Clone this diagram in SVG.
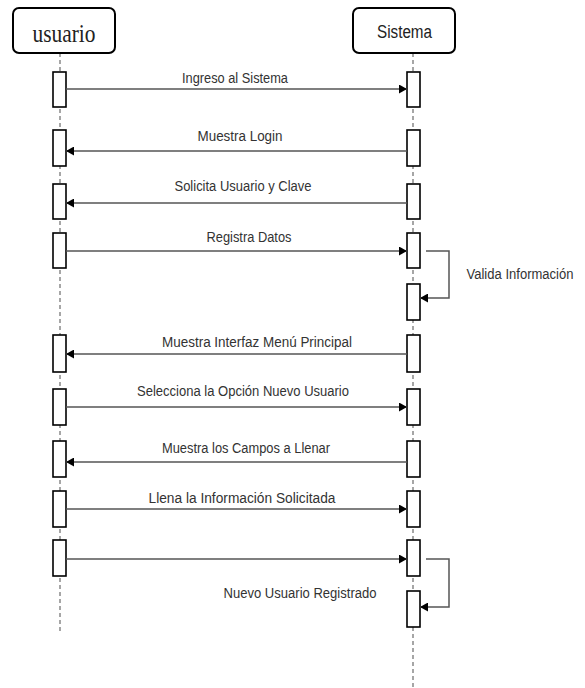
<svg xmlns="http://www.w3.org/2000/svg" width="585" height="688" viewBox="0 0 585 688">
  <defs>
    <marker id="head" markerWidth="9" markerHeight="9" refX="8" refY="4.5" orient="auto" markerUnits="userSpaceOnUse">
      <path d="M0,0 L8,4.5 L0,9 Z" fill="#000"/>
    </marker>
    <style>
      .actor { fill: #fff; stroke: #000; stroke-width: 2; }
      .life { stroke: #777; stroke-width: 1.3; stroke-dasharray: 4 3; fill: none; }
      .act { fill: #fff; stroke: #000; stroke-width: 1.6; }
      .msg { stroke: #555; stroke-width: 1.5; fill: none; marker-end: url(#head); }
      .lbl { font-family: "Liberation Sans", Arial, sans-serif; font-size: 14px; fill: #333; text-anchor: middle; }
    </style>
  </defs>
  <rect width="585" height="688" fill="#fff"/>

  <!-- lifelines -->
  <g id="lifelines">
    <line class="life" x1="60" y1="53" x2="60" y2="634"/>
    <line class="life" x1="413" y1="53" x2="413" y2="688"/>
  </g>

  <!-- participants -->
  <g id="usuario">
    <rect class="actor" x="13" y="8" width="102" height="45" rx="6"/>
    <text x="64" y="42" font-family="'Liberation Serif', 'Times New Roman', serif" font-size="25" fill="#222" text-anchor="middle" textLength="63" lengthAdjust="spacingAndGlyphs">usuario</text>
  </g>
  <g id="sistema">
    <rect class="actor" x="353" y="8" width="102" height="45" rx="6"/>
    <text x="404.5" y="38" font-family="'Liberation Sans', Arial, sans-serif" font-size="18" fill="#222" text-anchor="middle" textLength="55" lengthAdjust="spacingAndGlyphs">Sistema</text>
  </g>

  <!-- activation bars: usuario -->
  <g id="usuario-activations">
    <rect class="act" x="53" y="72" width="13" height="35"/>
    <rect class="act" x="53" y="130" width="13" height="36"/>
    <rect class="act" x="53" y="184" width="13" height="35"/>
    <rect class="act" x="53" y="233" width="13" height="35"/>
    <rect class="act" x="53" y="335" width="13" height="37"/>
    <rect class="act" x="53" y="389" width="13" height="36"/>
    <rect class="act" x="53" y="441" width="13" height="36"/>
    <rect class="act" x="53" y="491" width="13" height="36"/>
    <rect class="act" x="53" y="540" width="13" height="36"/>
  </g>

  <!-- activation bars: sistema -->
  <g id="sistema-activations">
    <rect class="act" x="407" y="72" width="13" height="35"/>
    <rect class="act" x="407" y="130" width="13" height="36"/>
    <rect class="act" x="407" y="184" width="13" height="35"/>
    <rect class="act" x="407" y="233" width="13" height="35"/>
    <rect class="act" x="407" y="284" width="13" height="36"/>
    <rect class="act" x="407" y="335" width="13" height="37"/>
    <rect class="act" x="407" y="389" width="13" height="36"/>
    <rect class="act" x="407" y="441" width="13" height="36"/>
    <rect class="act" x="407" y="491" width="13" height="36"/>
    <rect class="act" x="407" y="540" width="13" height="36"/>
    <rect class="act" x="407" y="591" width="13" height="36"/>
  </g>

  <!-- messages -->
  <g id="connectors">
    <line class="msg" x1="66" y1="89" x2="407" y2="89"/>
    <line class="msg" x1="407" y1="151" x2="66" y2="151"/>
    <line class="msg" x1="407" y1="203" x2="66" y2="203"/>
    <line class="msg" x1="66" y1="251" x2="407" y2="251"/>
    <polyline class="msg" points="426,251 449,251 449,298 420,298"/>
    <line class="msg" x1="407" y1="354" x2="66" y2="354"/>
    <line class="msg" x1="66" y1="407" x2="407" y2="407"/>
    <line class="msg" x1="407" y1="462" x2="66" y2="462"/>
    <line class="msg" x1="66" y1="509" x2="407" y2="509"/>
    <line class="msg" x1="66" y1="559" x2="407" y2="559"/>
    <polyline class="msg" points="426,559 449,559 449,607 420,607"/>
  </g>

  <!-- message labels -->
  <g id="labels">
    <text class="lbl" x="235" y="83" textLength="106" lengthAdjust="spacingAndGlyphs">Ingreso al Sistema</text>
    <text class="lbl" x="240" y="141" textLength="85" lengthAdjust="spacingAndGlyphs">Muestra Login</text>
    <text class="lbl" x="243" y="191" textLength="137" lengthAdjust="spacingAndGlyphs">Solicita Usuario y Clave</text>
    <text class="lbl" x="249" y="242" textLength="85" lengthAdjust="spacingAndGlyphs">Registra Datos</text>
    <text class="lbl" x="520" y="279" textLength="107" lengthAdjust="spacingAndGlyphs">Valida Información</text>
    <text class="lbl" x="257" y="347" textLength="190" lengthAdjust="spacingAndGlyphs">Muestra Interfaz Menú Principal</text>
    <text class="lbl" x="243" y="396" textLength="212" lengthAdjust="spacingAndGlyphs">Selecciona la Opción Nuevo Usuario</text>
    <text class="lbl" x="246" y="453" textLength="168" lengthAdjust="spacingAndGlyphs">Muestra los Campos a Llenar</text>
    <text class="lbl" x="242" y="503" textLength="187" lengthAdjust="spacingAndGlyphs">Llena la Información Solicitada</text>
    <text class="lbl" x="300" y="598" textLength="153" lengthAdjust="spacingAndGlyphs">Nuevo Usuario Registrado</text>
  </g>
</svg>
